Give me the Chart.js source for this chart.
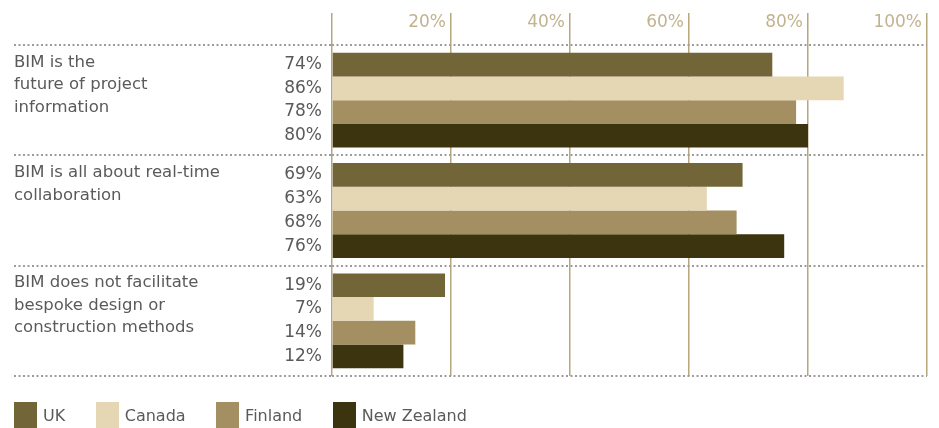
<!DOCTYPE html>
<html>
<head>
<meta charset="utf-8">
<script src="https://cdn.jsdelivr.net/npm/chart.js@4"></script>
<style>
    html, body { margin: 0; padding: 0; background: #fff; overflow: hidden; }
    .wrap { position: relative; width: 939px; height: 428px; }
    #legend {
        position: absolute; left: 14px; top: 402px;
        display: flex; gap: 30.5px;
        font-family: "DejaVu Sans", sans-serif; font-size: 16px; color: #5a5a5a;
    }
    .legend-item { display: flex; align-items: flex-start; }
    .legend-box { width: 23px; height: 26px; margin-right: 6px; }
    .legend-text { line-height: 28px; }
</style>
</head>
<body>
<div class="wrap">
    <canvas id="chart" width="939" height="428"></canvas>
    <div id="legend"></div>
</div>
<script>
// Survey statements (one line per array entry)
const statements = [
    ['BIM is the', 'future of project', 'information'],
    ['BIM is all about real-time', 'collaboration'],
    ['BIM does not facilitate', 'bespoke design or', 'construction methods']
];

// Share agreeing, per country (%)
const countries = ['UK', 'Canada', 'Finland', 'New Zealand'];
const ukValues = [74, 69, 19];
const canadaValues = [86, 63, 7];
const finlandValues = [78, 68, 14];
const nzValues = [80, 76, 12];
const seriesValues = [ukValues, canadaValues, finlandValues, nzValues];
const seriesColors = ['#726638', '#e5d6b4', '#a38f61', '#3c340e'];

// Axis ticks
const tickMin = 0;
const tickMax = 100;
const tickStep = 20;

const labelFont = '"DejaVu Sans", sans-serif';
const textGrey = '#5a5a5a';
const tan = '#b8a67c';

// Percent next to every bar, right aligned against the axis
const valueLabels = {
    id: 'valueLabels',
    afterDatasetsDraw(chart) {
        const ctx = chart.ctx;
        ctx.save();
        ctx.font = '17px ' + labelFont;
        ctx.fillStyle = textGrey;
        ctx.textAlign = 'right';
        ctx.textBaseline = 'middle';
        chart.data.datasets.forEach((ds, i) => {
            chart.getDatasetMeta(i).data.forEach((bar, j) => {
                ctx.fillText(ds.data[j] + '%', chart.chartArea.left - 10, bar.y);
            });
        });
        ctx.restore();
    }
};

// Statement text, top aligned in each group band
const statementLabels = {
    id: 'statementLabels',
    afterDraw(chart) {
        const ctx = chart.ctx;
        const y = chart.scales.y;
        const band = y.getPixelForValue(1) - y.getPixelForValue(0);
        ctx.save();
        ctx.font = '16.5px ' + labelFont;
        ctx.fillStyle = textGrey;
        ctx.textAlign = 'left';
        ctx.textBaseline = 'middle';
        chart.data.labels.forEach((lines, i) => {
            const top = y.getPixelForValue(i) - band / 2;
            lines.forEach((line, k) => {
                ctx.fillText(line, 14, top + 17.5 + k * 22.5);
            });
        });
        ctx.restore();
    }
};

new Chart(document.getElementById('chart'), {
    type: 'bar',
    data: {
        labels: statements,
        datasets: countries.map((name, i) => ({
            label: name,
            data: seriesValues[i],
            backgroundColor: seriesColors[i],
            barPercentage: 1,
            categoryPercentage: 0.86
        }))
    },
    options: {
        indexAxis: 'y',
        responsive: false,
        animation: false,
        layout: { padding: { left: 14, right: 12, top: 13, bottom: 52 } },
        plugins: {
            legend: { display: false },
            tooltip: { enabled: false }
        },
        scales: {
            x: {
                position: 'top',
                min: tickMin,
                max: tickMax,
                afterFit: s => { s.height = 32; },
                ticks: {
                    stepSize: tickStep,
                    autoSkip: false,
                    maxRotation: 0,
                    align: 'end',
                    labelOffset: -5,
                    padding: -20,
                    color: '#c2b390',
                    font: { family: labelFont, size: 17 },
                    callback: v => v === 0 ? '' : v + '%'
                },
                grid: { color: tan, lineWidth: 1.5, tickLength: 32 },
                border: { display: false }
            },
            y: {
                afterFit: s => { s.width = 318; },
                ticks: { display: false },
                grid: {
                    color: '#9c9c9c',
                    lineWidth: 2,
                    tickLength: 318,
                    tickBorderDash: [2, 2.5]
                },
                border: { display: false, dash: [2, 2.5] }
            }
        }
    },
    plugins: [valueLabels, statementLabels]
});

// Legend
const legend = document.getElementById('legend');
countries.forEach((name, i) => {
    const item = document.createElement('div');
    item.className = 'legend-item';
    item.innerHTML = `<div class="legend-box" style="background:${seriesColors[i]}"></div><span class="legend-text">${name}</span>`;
    legend.appendChild(item);
});
</script>
</body>
</html>
